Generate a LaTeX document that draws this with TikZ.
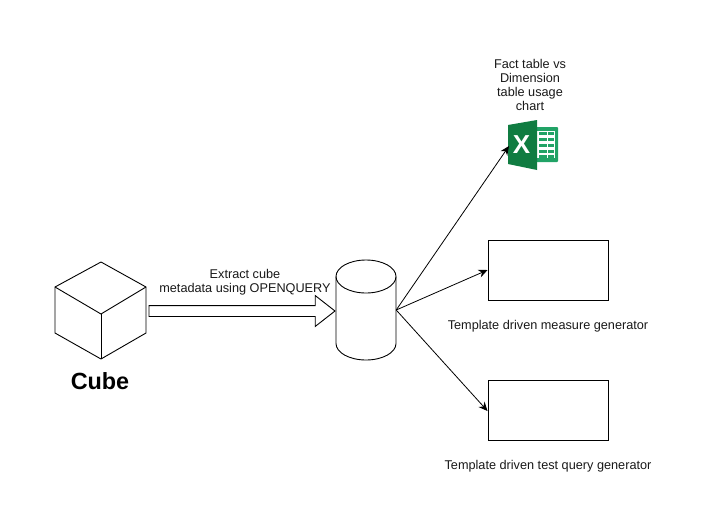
\documentclass[tikz,border=0pt]{standalone}
\usepackage{fontspec}
\setmainfont{Liberation Sans}
\usetikzlibrary{shapes.arrows}
\usetikzlibrary{arrows.meta}
\definecolor{xlgreen}{HTML}{107C41}
\definecolor{xllight}{HTML}{21A366}
\tikzset{
  line/.style={draw=black,line width=0.9pt},
  outbox/.style={line,rectangle,minimum width=120,minimum height=60,inner sep=0},
  caption/.style={font=\fontsize{12.7}{14}\selectfont,align=center,text=black!90},
  link/.style={draw=black,line width=0.8pt,-{Stealth[length=9pt,width=8pt]}},
}
\begin{document}
\begin{tikzpicture}[x=1pt,y=-1pt]
\useasboundingbox (0,0) rectangle (704,531);

% cube
\coordinate (ctop) at (101,262);
\coordinate (cleft) at (55,287);
\coordinate (cright) at (146,287);
\coordinate (cmid) at (101,314);
\coordinate (clow) at (55,333);
\coordinate (crow) at (146,333);
\coordinate (cbot) at (101,359);
\draw[line,line join=round] (ctop) -- (cright) -- (crow) -- (cbot) -- (clow) -- (cleft) -- cycle;
\draw[line] (cleft) -- (cmid) -- (cright);
\draw[line] (cmid) -- (cbot);
\node[font=\bfseries\fontsize{23.4}{26}\selectfont] (cubelabel) at (100,381) {Cube};

% database
\node[minimum width=60,minimum height=100,inner sep=0] (db) at (366,310) {};
\draw[line] (366,276.5) ellipse [x radius=30,y radius=16.5];
\draw[line] (336,276.5) -- (336,343.5) arc [start angle=180,end angle=0,x radius=30,y radius=16.5] -- (396,276.5);

% wide arrow
\node[line,single arrow,single arrow head extend=10,single arrow tip angle=76,minimum height=186,inner xsep=0,inner ysep=5] (flow) at (238.5,311) {};
\node[caption] (flowlabel) at (245,282) {Extract cube\\metadata using OPENQUERY};

% outputs
\node[outbox] (measure) at (548,270) {};
\node[outbox] (query) at (548,410) {};
\node[caption] (measurelabel) at (548,326) {Template driven measure generator};
\node[caption] (querylabel) at (548,466) {Template driven test query generator};
\node[caption] (chartlabel) at (530,85) {Fact table vs\\Dimension\\table usage\\chart};

% excel icon
\coordinate (excel) at (509,146);
\fill[xllight,rounded corners=1pt] (530,127) rectangle (558,162);
\fill[white] (537,131) rectangle (555,158);
\foreach \y in {132,138,144,150,155}
  \fill[xllight] (539,\y) rectangle (554,\y+2.5);
\draw[white,line width=1pt] (547,131) -- (547,158);
\fill[xlgreen] (508,125) -- (537,120) -- (537,170) -- (508,164) -- cycle;
\node[text=white,font=\bfseries\fontsize{26}{26}\selectfont,inner sep=0] (xmark) at (521.5,145) {X};

\draw[link] (db.east) -- (excel);
\draw[link] (db.east) -- (measure.west);
\draw[link] (db.east) -- ([yshift=-1]query.west);
\end{tikzpicture}
\end{document}
